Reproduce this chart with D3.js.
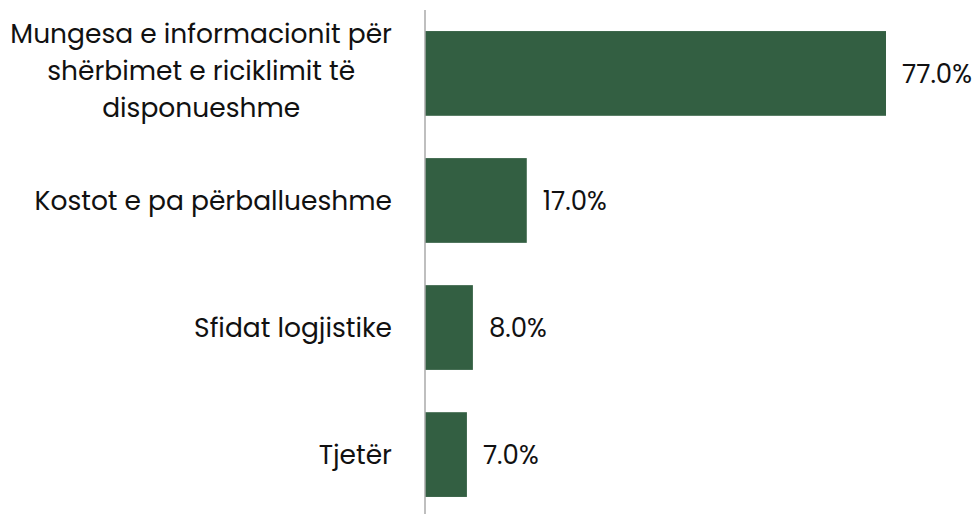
<!DOCTYPE html>
<html>
<head>
<meta charset="utf-8">
<script src="https://cdn.jsdelivr.net/npm/d3@7"></script>
<style>
  body { margin: 0; background: #fff; }
  .cat { font-family: "Poppins", "Open Sans", sans-serif; font-size: 26.5px; fill: #111; }
  .val { font-family: "Poppins", "Open Sans", sans-serif; font-size: 26px; fill: #111; }
</style>
</head>
<body>
<script>
// data
var categories = ["Mungesa e informacionit për shërbimet e riciklimit të disponueshme",
                  "Kostot e pa përballueshme",
                  "Sfidat logjistike",
                  "Tjetër"];
var values = [77.0, 17.0, 8.0, 7.0];

var data = categories.map(function(c, i) { return {cat: c, value: values[i]}; });

var width = 977, height = 514,
    axisX = 425;

var svg = d3.select("body").append("svg")
    .attr("width", width)
    .attr("height", height);

var x = d3.scaleLinear()
    .domain([0, 77])
    .range([0, 461]);

var y = d3.scaleBand()
    .domain(categories)
    .range([12, 516])
    .paddingInner(0.333)
    .paddingOuter(0.15);

var g = svg.append("g")
    .attr("transform", "translate(" + axisX + ",0)");

// bars
g.selectAll(".bar")
    .data(data)
  .enter().append("rect")
    .attr("class", "bar")
    .attr("x", 0)
    .attr("y", function(d) { return y(d.cat); })
    .attr("width", function(d) { return x(d.value); })
    .attr("height", y.bandwidth())
    .style("fill", "#335f42");

// axis line
g.append("line")
    .attr("x1", 0).attr("x2", 0)
    .attr("y1", 10).attr("y2", 515)
    .style("stroke", "#aaaaaa")
    .style("stroke-width", 1.5);

// value labels
g.selectAll(".val")
    .data(data)
  .enter().append("text")
    .attr("class", "val")
    .attr("x", function(d) { return x(d.value) + 16; })
    .attr("y", function(d) { return y(d.cat) + y.bandwidth() / 2; })
    .attr("dy", "0.35em")
    .text(function(d) { return d.value.toFixed(1) + "%"; });

// category labels, wrapped and centred inside a right-aligned block
var maxW = 390, lineH = 37, rightEdge = 392;
var probe = svg.append("text").attr("class", "cat");
function measure(s) { probe.text(s); return probe.node().getComputedTextLength(); }

data.forEach(function(d) {
  var words = d.cat.split(" "), lines = [], line = [];
  words.forEach(function(w) {
    line.push(w);
    if (measure(line.join(" ")) > maxW && line.length > 1) {
      line.pop();
      lines.push(line.join(" "));
      line = [w];
    }
  });
  lines.push(line.join(" "));
  var blockW = d3.max(lines, measure);
  var cx = rightEdge - blockW / 2;
  var cy = y(d.cat) + y.bandwidth() / 2 - (lines.length > 1 ? 3 : 0);
  var top = cy - (lines.length - 1) * lineH / 2;
  lines.forEach(function(l, i) {
    svg.append("text")
      .attr("class", "cat")
      .attr("x", cx)
      .attr("y", top + i * lineH)
      .attr("dy", "0.35em")
      .attr("text-anchor", "middle")
      .text(l);
  });
});
probe.remove();
</script>
</body>
</html>
